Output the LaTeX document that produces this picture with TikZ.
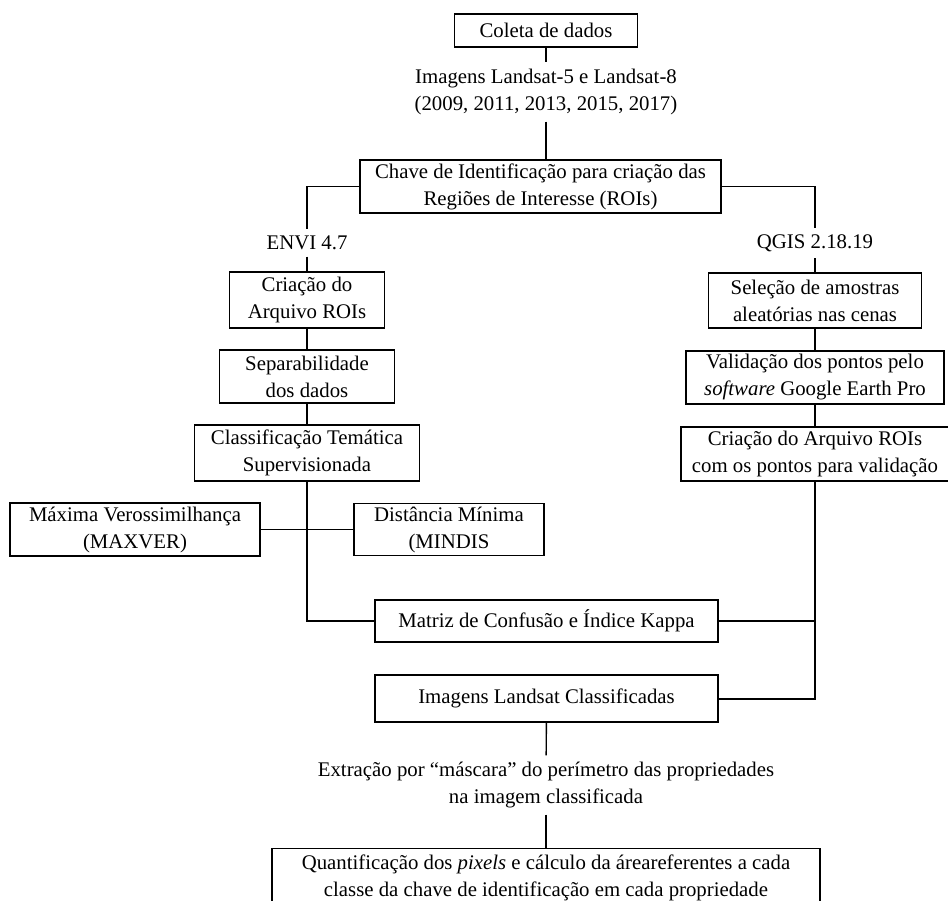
\documentclass[tikz,border=0pt]{standalone}
\usepackage{fontspec}
\setmainfont{Liberation Serif}
\begin{document}
\begin{tikzpicture}[x=0.5pt,y=-0.5pt,line width=0.7pt,
  font=\fontsize{10.4}{13.5}\selectfont,
  box/.style 2 args={draw, align=center, inner sep=1pt,
    minimum width={#1*0.5pt}, minimum height={#2*0.5pt}},
  label/.style={align=center, inner sep=3pt}]
\clip (0,0) rectangle (948,900);
\fill[white] (0,0) rectangle (948,900);

\node[box={183}{33}] (coleta) at (546,30.5) {Coleta de dados};
\node[label] (imagens) at (546,92) {Imagens Landsat-5 e Landsat-8\\(2009, 2011, 2013, 2015, 2017)};

\node[box={361}{53}] (chave) at (540.5,186.5) {Chave de Identificação para criação das\\Regiões de Interesse (ROIs)};

\node[label] (envi) at (307,243) {ENVI 4.7};
\node[label] (qgis) at (815,243) {QGIS 2.18.19};

\node[box={155}{56}] (criacao) at (307,300) {Criação do\\Arquivo ROIs};
\node[box={175}{53}] (separa) at (307,376.5) {Separabilidade\\dos dados};
\node[box={225}{56}] (classif) at (307,453) {Classificação Temática\\Supervisionada};

\node[box={250}{53}] (maxver) at (135,529.5) {Máxima Verossimilhança\\(MAXVER)};
\node[box={190}{52}] (mindis) at (449,529.5) {Distância Mínima\\(MINDIS};

\node[box={213}{55}] (selecao) at (815,300.5) {Seleção de amostras\\aleatórias nas cenas};
\node[box={258}{53}] (validacao) at (815,377.5) {Validação dos pontos pelo\\\textit{software} Google Earth Pro};
\node[box={268}{54}] (roisval) at (815,454) {Criação do Arquivo ROIs\\com os pontos para validação};

\node[box={343}{42}] (matriz) at (546.5,621) {Matriz de Confusão e Índice Kappa};
\node[box={343}{47}] (classificadas) at (546.5,698.5) {Imagens Landsat Classificadas};

\node[label] (extracao) at (546,785) {Extração por “máscara” do perímetro das propriedades\\na imagem classificada};

\node[box={548}{0}, anchor=north, inner ysep=3pt] (quant) at (546,848) {Quantificação dos \textit{pixels} e cálculo da áreareferentes a cada\\classe da chave de identificação em cada propriedade\\[5pt]};

\draw (coleta)--(imagens);
\draw (imagens.south)--(imagens.south |- chave.north);
\draw (chave.west) -| (envi.north);
\draw (chave.east) -| (qgis.north);
\draw (envi)--(criacao);
\draw (criacao)--(separa);
\draw (separa)--(classif);
\draw (classif.south) |- (matriz.west);
\draw (maxver)--(mindis);
\draw (qgis)--(selecao);
\draw (selecao)--(validacao);
\draw (validacao)--(roisval);
\draw[line width=1pt] (roisval.south) |- (classificadas.east);
\draw (matriz.east) -- (matriz.east -| roisval.south);
\draw (classificadas)--(extracao);
\draw (extracao)--(quant);
\end{tikzpicture}
\end{document}
